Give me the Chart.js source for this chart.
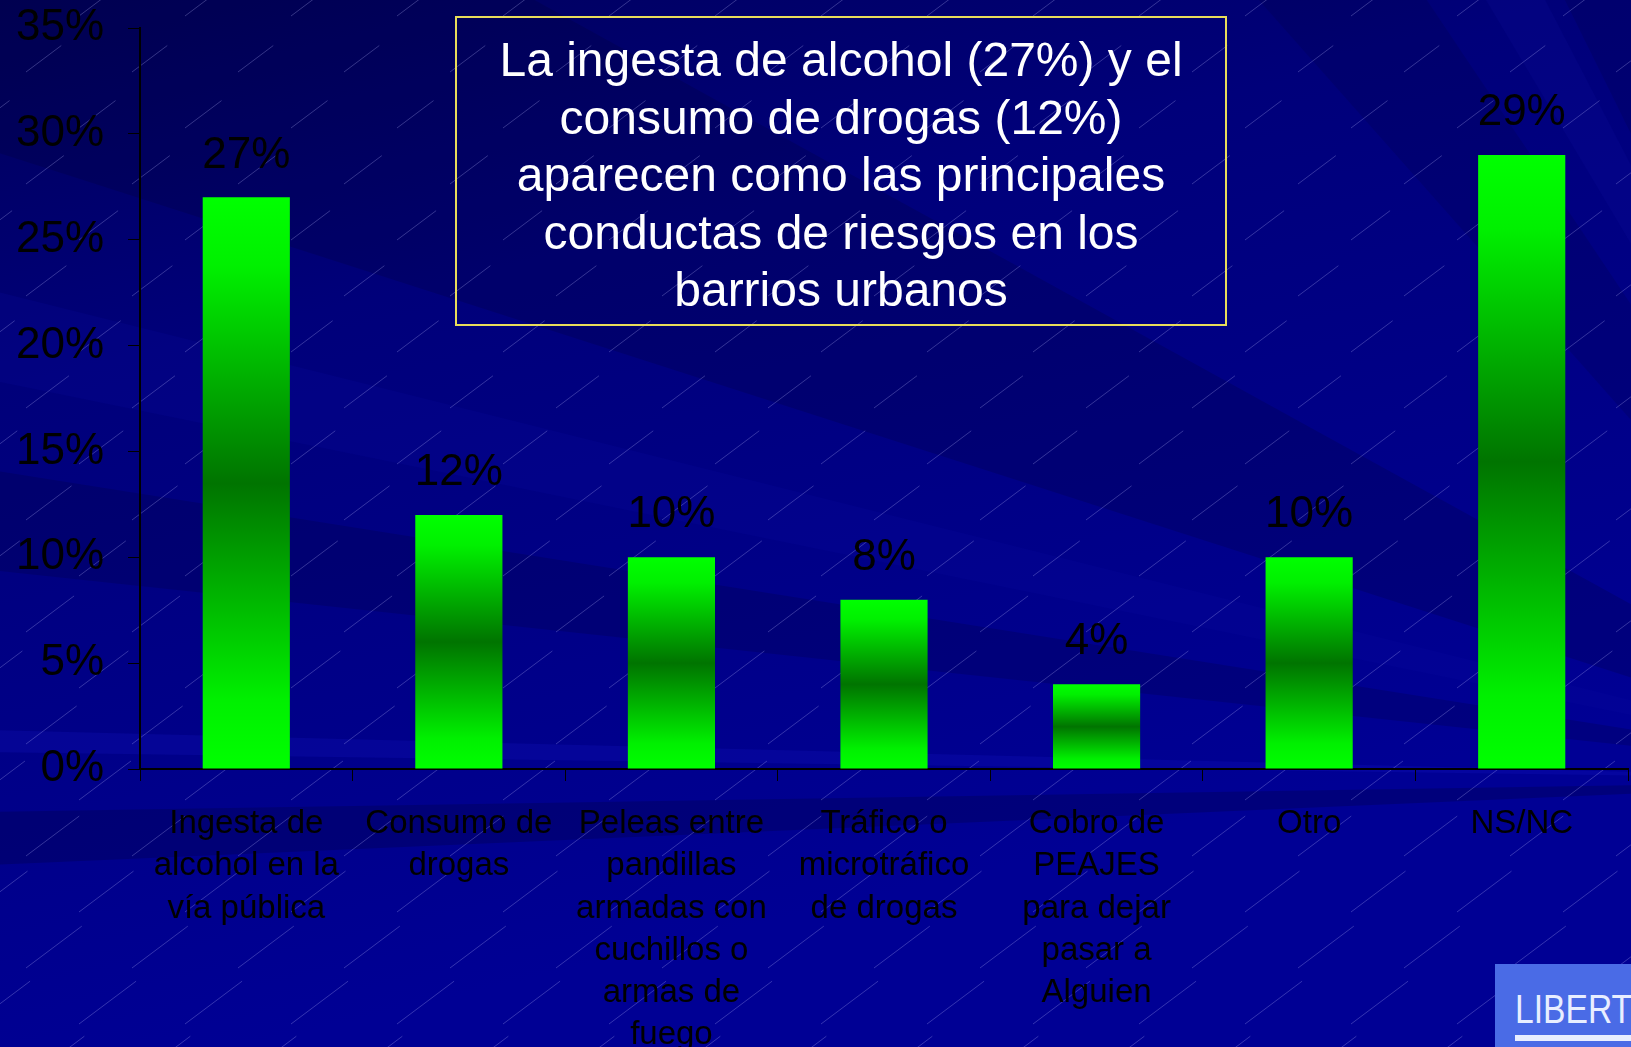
<!DOCTYPE html>
<html lang="es">
<head>
<meta charset="utf-8">
<title>Conductas de riesgo</title>
<script src="https://cdn.jsdelivr.net/npm/chart.js@4.4.1/dist/chart.umd.min.js"></script>
<style>
    html, body { margin: 0; padding: 0; overflow: hidden; background: #000080; }
    #wrap { position: relative; width: 1631px; height: 1047px; }
    #chart { position: absolute; left: 0; top: 0; }
    #titleBox {
        position: absolute; left: 455px; top: 16px; width: 772px; height: 310px;
        box-sizing: border-box; border: 2px solid #e8dc5a;
        display: flex; flex-direction: column; justify-content: center; padding-top: 8px;
        color: #ffffff; font-family: "Liberation Sans", Arial, sans-serif;
        font-size: 48px; line-height: 57.5px; text-align: center;
    }
    #logo {
        position: absolute; left: 1495px; top: 964px; width: 136px; height: 83px;
        background: #4a6be6; overflow: hidden;
    }
    #logo span {
        position: absolute; left: 20px; top: 22px; color: #e8eeff;
        font-family: "Liberation Sans", Arial, sans-serif; font-size: 41px;
        transform: scaleX(0.82); transform-origin: left top;
    }
    #logo i { position: absolute; left: 20px; top: 71px; width: 130px; height: 6px; background: #e8eeff; }
</style>
</head>
<body>
<div id="wrap">
    <canvas id="chart" width="1631" height="1047"></canvas>
    <div id="titleBox"></div>
    <div id="logo"><span>LIBERT</span><i></i></div>
</div>
<script>
// Données du graphique
const categories = [
    ["Ingesta de", "alcohol en la", "vía pública"],
    ["Consumo de", "drogas"],
    ["Peleas entre", "pandillas", "armadas con", "cuchillos o", "armas de", "fuego"],
    ["Tráfico o", "microtráfico", "de drogas"],
    ["Cobro de", "PEAJES", "para dejar", "pasar a", "Alguien"],
    ["Otro"],
    ["NS/NC"]
];
const values = [27, 12, 10, 8, 4, 10, 29];
const yTicks = [0, 5, 10, 15, 20, 25, 30, 35];
const titleLines = [
    "La ingesta de alcohol (27%) y el",
    "consumo de drogas (12%)",
    "aparecen como las principales",
    "conductas de riesgos en los",
    "barrios urbanos"
];

document.getElementById("titleBox").innerHTML = titleLines.join("<br>");

const FONT = '"Liberation Sans", Arial, sans-serif';

// Fond bleu type diapositive (dégradé, rayons, hachures)
const slideBackground = {
    id: "slideBackground",
    beforeDraw(chart) {
        const { ctx, width, height } = chart;
        ctx.save();
        const g = ctx.createLinearGradient(0, 0, 250, height);
        g.addColorStop(0, "#00005a");
        g.addColorStop(0.35, "#00007a");
        g.addColorStop(1, "#000094");
        ctx.fillStyle = g;
        ctx.fillRect(0, 0, width, height);

        // rayons qui convergent en bas à droite
        const fx = 1950, fy = 780;
        const wedge = (p1, p2, color) => {
            ctx.beginPath();
            ctx.moveTo(fx, fy);
            ctx.lineTo(p1[0], p1[1]);
            ctx.lineTo(p2[0], p2[1]);
            ctx.closePath();
            ctx.fillStyle = color;
            ctx.fill();
        };
        wedge([-10, -300], [-10, 150], "rgba(0,0,40,0.18)");
        wedge([-10, 290], [-10, 380], "rgba(10,10,160,0.20)");
        wedge([-10, 470], [-10, 570], "rgba(0,0,50,0.20)");
        wedge([-10, 730], [-10, 752], "rgba(20,20,190,0.25)");
        wedge([-10, 812], [-10, 865], "rgba(0,0,60,0.28)");
        wedge([1250, -10], [1420, -10], "rgba(0,0,50,0.15)");
        wedge([1480, -10], [1540, -10], "rgba(20,20,170,0.15)");
        wedge([1560, -10], [1700, -10], "rgba(0,0,50,0.15)");

        // hachures fines
        ctx.strokeStyle = "rgba(190,190,255,0.28)";
        ctx.lineWidth = 1;
        ctx.beginPath();
        let row = 0;
        for (let y = -40; y < height + 80; y += 56, row++) {
            const len = 42 + 30 * Math.max(0, y) / height;
            for (let x = (row % 2) * 53 - 80; x < width + 60; x += 106) {
                ctx.moveTo(x, y);
                ctx.lineTo(x + len * 0.8, y - len * 0.6);
            }
        }
        ctx.stroke();
        ctx.restore();
    }
};

// Étiquettes de valeur au-dessus des barres
const valueLabels = {
    id: "valueLabels",
    afterDatasetsDraw(chart) {
        const { ctx } = chart;
        const meta = chart.getDatasetMeta(0);
        ctx.save();
        ctx.font = "44px " + FONT;
        ctx.fillStyle = "#000000";
        ctx.textAlign = "center";
        ctx.textBaseline = "middle";
        meta.data.forEach((bar, i) => {
            ctx.fillText(values[i] + "%", bar.x, bar.y - 42);
        });
        ctx.restore();
    }
};

function barGradient(context) {
    const chart = context.chart;
    if (!chart.chartArea) return "#00ff00";
    const y = chart.scales.y;
    const top = y.getPixelForValue(context.raw);
    const base = y.getPixelForValue(0);
    const g = chart.ctx.createLinearGradient(0, top, 0, base);
    g.addColorStop(0, "#00ff00");
    g.addColorStop(0.12, "#00f000");
    g.addColorStop(0.5, "#007400");
    g.addColorStop(0.88, "#00f000");
    g.addColorStop(1, "#00ff00");
    return g;
}

new Chart(document.getElementById("chart").getContext("2d"), {
    type: "bar",
    data: {
        labels: categories,
        datasets: [{
            data: values,
            backgroundColor: barGradient,
            borderWidth: 0,
            barPercentage: 0.41,
            categoryPercentage: 1
        }]
    },
    options: {
        responsive: false,
        animation: false,
        devicePixelRatio: 1,
        layout: { padding: { top: 28, right: 3, left: 0, bottom: 0 } },
        plugins: {
            legend: { display: false },
            tooltip: { enabled: false }
        },
        scales: {
            x: {
                grid: { drawOnChartArea: false, drawTicks: true, tickLength: 12, color: "#000000", offset: true },
                border: { display: true, color: "#000000", width: 2 },
                ticks: {
                    color: "#000000",
                    padding: 22,
                    maxRotation: 0,
                    autoSkip: false,
                    font: { family: FONT, size: 33, lineHeight: 1.28 }
                },
                afterFit: (scale) => { scale.height = 278; }
            },
            y: {
                min: 0,
                max: 35,
                afterBuildTicks: (scale) => { scale.ticks = yTicks.map(v => ({ value: v })); },
                grid: { drawOnChartArea: false, drawTicks: true, tickLength: 12, color: "#000000" },
                border: { display: true, color: "#000000", width: 2 },
                ticks: {
                    color: "#000000",
                    padding: 24,
                    font: { family: FONT, size: 44 },
                    callback: (v) => v + "%"
                },
                afterFit: (scale) => {
                    scale.width = 140;
                    scale.paddingTop = 0;
                    scale.paddingBottom = 0;
                }
            }
        }
    },
    plugins: [slideBackground, valueLabels]
});
</script>
</body>
</html>
